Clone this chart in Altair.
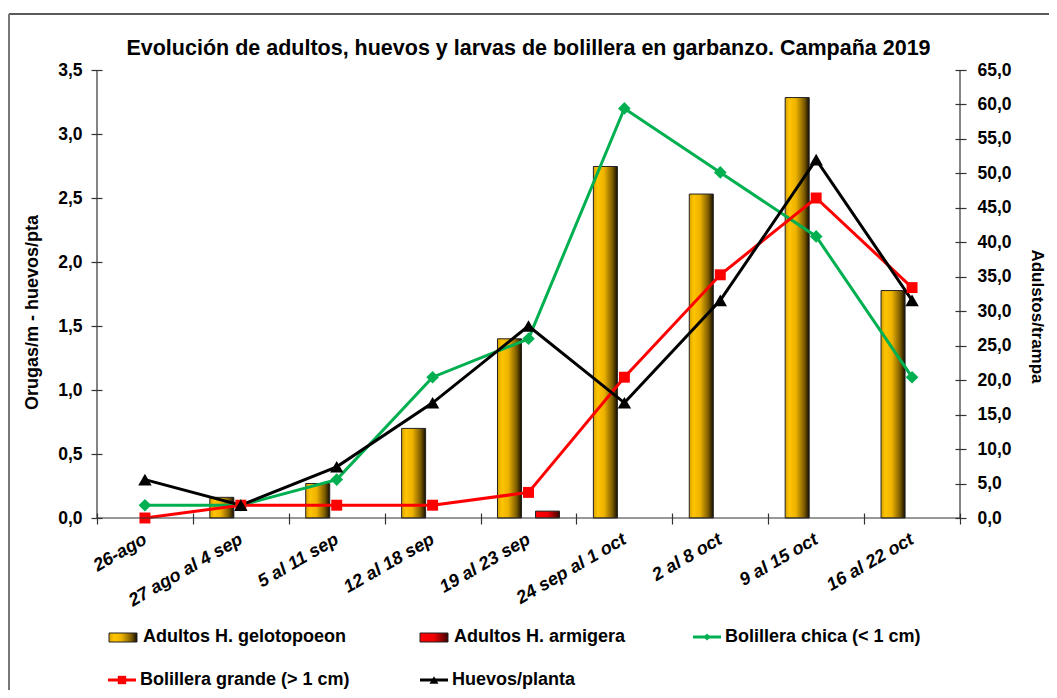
import altair as alt
import pandas as pd

categories = ["26-ago", "27 ago al 4 sep", "5 al 11 sep", "12 al 18 sep", "19 al 23 sep",
              "24 sep al 1 oct", "2 al 8 oct", "9 al 15 oct", "16 al 22 oct"]
adultos_gelotopoeon = [0, 3, 5, 13, 26, 51, 47, 61, 33]
adultos_armigera = [0, 0, 0, 0, 1, 0, 0, 0, 0]
bolillera_chica = [0.1, 0.1, 0.3, 1.1, 1.4, 3.2, 2.7, 2.2, 1.1]
bolillera_grande = [0.0, 0.1, 0.1, 0.1, 0.2, 1.1, 1.9, 2.5, 1.8]
huevos_planta = [0.3, 0.1, 0.4, 0.9, 1.5, 0.9, 1.7, 2.8, 1.7]

bar_series = ["Adultos H. gelotopoeon", "Adultos H. armigera"]
line_series = ["Bolillera chica (< 1 cm)", "Bolillera grande (> 1 cm)", "Huevos/planta"]
line_colors = ["#00B050", "#FF0000", "#000000"]
line_shapes = ["diamond", "square", "triangle-up"]
line_sizes = [160, 120, 180]
left_ticks = [0, 0.5, 1.0, 1.5, 2.0, 2.5, 3.0, 3.5]
right_ticks = [0, 5, 10, 15, 20, 25, 30, 35, 40, 45, 50, 55, 60, 65]
title_text = "Evolución de adultos, huevos y larvas de bolillera en garbanzo. Campaña 2019"

W, H = 863, 448
FONT = "Liberation Sans"
fmt = "replace(format(datum.value, '.1f'), '.', ',')"

bars_df = pd.DataFrame({
    "cat": categories * 2,
    "series": [bar_series[0]] * len(categories) + [bar_series[1]] * len(categories),
    "value": adultos_gelotopoeon + adultos_armigera,
})
lines_df = pd.DataFrame({
    "cat": categories * 3,
    "series": sum([[s] * len(categories) for s in line_series], []),
    "value": bolillera_chica + bolillera_grande + huevos_planta,
})
one_df = pd.DataFrame({"k": [0]})

grad_gold = alt.Gradient(gradient="linear", x1=0, x2=1, y1=0, y2=0, stops=[
    alt.GradientStop(color="#D9A200", offset=0),
    alt.GradientStop(color="#FFC400", offset=0.18),
    alt.GradientStop(color="#EDB200", offset=0.45),
    alt.GradientStop(color="#7A5A00", offset=0.8),
    alt.GradientStop(color="#140D00", offset=1),
])
grad_red = alt.Gradient(gradient="linear", x1=0, x2=1, y1=0, y2=0, stops=[
    alt.GradientStop(color="#FF0000", offset=0),
    alt.GradientStop(color="#F00000", offset=0.5),
    alt.GradientStop(color="#400000", offset=1),
])

x_axis = alt.Axis(title=None, labelAngle=-30, labelAlign="right", labelBaseline="middle",
                  labelFontStyle="italic", labelFontWeight="bold", labelFontSize=18,
                  labelPadding=14, tickBand="extent", tickSize=11, offset=-5, domain=False,
                  tickColor="#333", labelColor="#000", labelFont=FONT)
x_enc = alt.X("cat:N", sort=categories,
              scale=alt.Scale(domain=categories, paddingInner=0, paddingOuter=0), axis=x_axis)
xo_enc = alt.XOffset("series:N", scale=alt.Scale(domain=bar_series, paddingInner=0.368, paddingOuter=0.446))

y_right = alt.Y("value:Q", scale=alt.Scale(domain=[0, 65], nice=False),
                axis=alt.Axis(orient="right", values=right_ticks, labelExpr=fmt,
                              title="Adulstos/trampa", titleAngle=90, titleX=81, titleY=246,
                              titleAlign="center", titleBaseline="middle", titleFontSize=17,
                              offset=-5, tickSize=11, domain=False, labelPadding=11, grid=False,
                              labelFontSize=17.5))
y_left = alt.Y("value:Q", scale=alt.Scale(domain=[0, 3.5], nice=False),
               axis=alt.Axis(orient="left", values=left_ticks, labelExpr=fmt,
                             title="Orugas/m - huevos/pta", titleAngle=-90, titleX=-70, titleY=242,
                             titleAlign="center", titleBaseline="middle", titleFontSize=18,
                             offset=-5, tickSize=11, domain=False, labelPadding=9, grid=False,
                             labelFontSize=17.5))

bar_layers = []
for s, g in zip(bar_series, [grad_gold, grad_red]):
    bar_layers.append(
        alt.Chart(bars_df).transform_filter(f"datum.series == '{s}' && datum.value > 0")
        .mark_bar(fill=g, stroke="#222", strokeWidth=1)
        .encode(x=x_enc, xOffset=xo_enc, y=y_right)
    )
bars = alt.layer(*bar_layers)

line_layers = [
    alt.Chart(lines_df).mark_line(strokeWidth=3).encode(
        x=x_enc, y=y_left,
        color=alt.Color("series:N", scale=alt.Scale(domain=line_series, range=line_colors), legend=None))
]
for s, c, sh, sz in zip(line_series, line_colors, line_shapes, line_sizes):
    line_layers.append(
        alt.Chart(lines_df).transform_filter(f"datum.series == '{s}'")
        .mark_point(filled=True, opacity=1, color=c, shape=sh, size=sz)
        .encode(x=x_enc, y=y_left)
    )
lines = alt.layer(*line_layers)

extras = []
dom = "#333"
extras.append(alt.Chart(one_df).mark_rule(color=dom, strokeWidth=1.2).encode(
    x=alt.value(0), y=alt.value(0), y2=alt.value(H)))
extras.append(alt.Chart(one_df).mark_rule(color=dom, strokeWidth=1.2).encode(
    x=alt.value(W), y=alt.value(0), y2=alt.value(H)))
extras.append(alt.Chart(one_df).mark_rule(color=dom, strokeWidth=1.2).encode(
    x=alt.value(0), x2=alt.value(W), y=alt.value(H)))
# outer frame
extras.append(alt.Chart(one_df).mark_rule(color="#222", strokeWidth=1.5).encode(
    x=alt.value(-88), x2=alt.value(W + 89), y=alt.value(-56)))
extras.append(alt.Chart(one_df).mark_rule(color="#777", strokeWidth=2).encode(
    x=alt.value(-88), y=alt.value(-56), y2=alt.value(H + 172)))
# title
extras.append(alt.Chart(one_df).mark_text(align="center", baseline="alphabetic", fontSize=21.5,
                                          fontWeight="bold", font=FONT, color="#000").encode(
    x=alt.value(W / 2), y=alt.value(-15), text=alt.value(title_text)))

# legend
leg_items = [
    (bar_series[0], "bar", 12, 567),
    (bar_series[1], "bar", 323, 567),
    (line_series[0], "line", 596, 567),
    (line_series[1], "line", 11, 610),
    (line_series[2], "line", 323, 610),
]
for label, kind, x0, yy in leg_items:
    if kind == "bar":
        g = grad_gold if label == bar_series[0] else grad_red
        extras.append(alt.Chart(one_df).mark_rect(fill=g, stroke="#222", strokeWidth=1).encode(
            x=alt.value(x0), x2=alt.value(x0 + 28), y=alt.value(yy - 4), y2=alt.value(yy + 5)))
        tx = x0 + 34
    else:
        i = line_series.index(label)
        extras.append(alt.Chart(one_df).mark_rule(color=line_colors[i], strokeWidth=3).encode(
            x=alt.value(x0), x2=alt.value(x0 + 28), y=alt.value(yy)))
        extras.append(alt.Chart(one_df).mark_point(filled=True, opacity=1, color=line_colors[i],
                                                   shape=line_shapes[i], size=[50, 70, 80][i]).encode(
            x=alt.value(x0 + 14), y=alt.value(yy)))
        tx = x0 + 32
    extras.append(alt.Chart(one_df).mark_text(align="left", baseline="middle", fontSize=18,
                                              fontWeight="bold", font=FONT, color="#000").encode(
        x=alt.value(tx), y=alt.value(yy), text=alt.value(label)))

chart = alt.layer(bars, lines, *extras).resolve_scale(y="independent").properties(
    width=W, height=H,
    autosize=alt.AutoSizeParams(type="none"),
    padding={"left": 89, "top": 62, "right": 89, "bottom": 172},
).configure_view(stroke=None).configure_axis(
    labelFont=FONT, titleFont=FONT, labelFontWeight="bold", titleFontWeight="bold",
    labelColor="#000", titleColor="#000", tickColor="#333", tickWidth=1.2,
)

chart.save("out.html", embed_options={"renderer": "svg", "actions": False})
